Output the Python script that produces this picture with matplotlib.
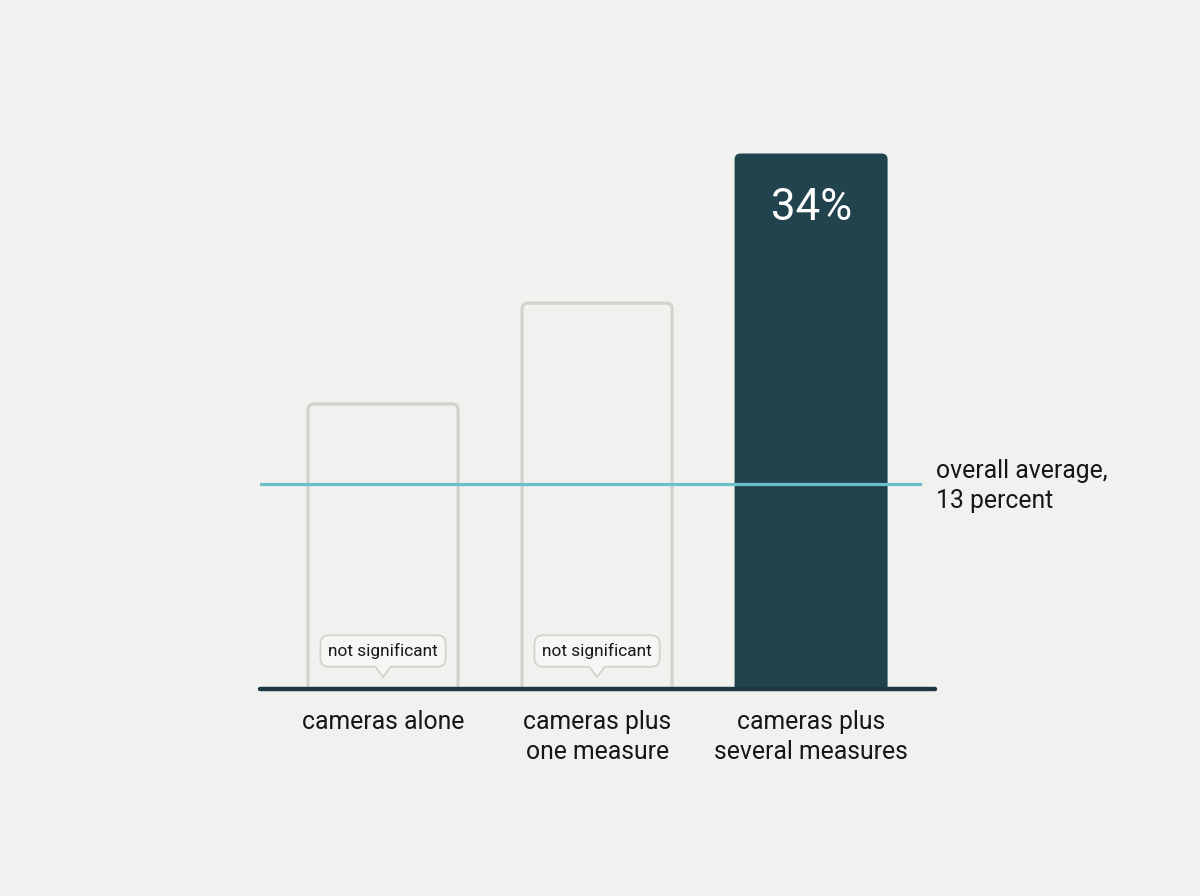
import matplotlib
matplotlib.use("Agg")
import matplotlib.pyplot as plt
import matplotlib.transforms as mtransforms
from matplotlib.patches import FancyBboxPatch, Polygon

# datos del grafico
categorias = ["cameras alone", "cameras plus\none measure", "cameras plus\nseveral measures"]
valores = [18.1, 24.5, 34]
significativo = [False, False, True]
promedio = 13
etiqueta_promedio = "overall average,\n13 percent"
etiqueta_valor = "34%"
etiqueta_ns = "not significant"

# colores
fondo = "#f1f2f0"
oscuro = "#21434d"
base = "#1d3a44"
gris = "#d5d2cb"
turquesa = "#6cc0cc"
texto = "#161616"

plt.rcParams['font.family'] = ['Roboto', 'DejaVu Sans']

fig = plt.figure(figsize=(12, 8.96), dpi=100, facecolor=fondo)
# ejes colocados en pixeles: izquierda 260, derecha 935, base en y=689
ax = fig.add_axes([260 / 1200, 207 / 896, 675 / 1200, 630 / 896])
ax.set_facecolor(fondo)
ax.set_xlim(-0.575, 2.579)
ax.set_ylim(0, 40)
ax.axis("off")

ancho = 0.715
# relacion de escala entre x e y para que las esquinas queden redondas
px_x = 675 / (2.579 + 0.575)
px_y = 630 / 40
aspecto = px_x / px_y

for i, (v, sig) in enumerate(zip(valores, significativo)):
    if sig:
        barra = FancyBboxPatch((i - ancho / 2, -2), ancho, v + 2,
                               boxstyle="round,pad=0,rounding_size=%f" % (6 / px_x),
                               mutation_aspect=aspecto,
                               facecolor=oscuro, edgecolor="none", zorder=2)
    else:
        barra = FancyBboxPatch((i - ancho / 2 + 1.5 / px_x, -2), ancho - 3 / px_x, v + 2,
                               boxstyle="round,pad=0,rounding_size=%f" % (6 / px_x),
                               mutation_aspect=aspecto,
                               facecolor="none", edgecolor=gris, linewidth=2.3, zorder=2)
    ax.add_patch(barra)

    if sig:
        ax.annotate(etiqueta_valor, xy=(i, v), xytext=(0, -55), textcoords="offset pixels",
                    ha="center", va="center", fontsize=31.5, color="white", zorder=5)
    else:
        # globo "not significant"
        ax.annotate(etiqueta_ns, xy=(i, 0), xytext=(0, 38), textcoords="offset pixels",
                    ha="center", va="center", fontsize=12.4, color=texto, zorder=6,
                    bbox=dict(boxstyle="round,pad=0.45,rounding_size=0.5",
                              facecolor="#f6f6f4", edgecolor=gris, linewidth=1.3))
        tr = fig.dpi_scale_trans + mtransforms.ScaledTranslation(i, 0, ax.transData)
        ax.add_patch(Polygon([(-0.085, 0.232), (0.085, 0.232), (0, 0.12)], closed=True,
                             facecolor="#f6f6f4", edgecolor="none", transform=tr,
                             zorder=7, clip_on=False))
        ax.plot([-0.075, 0, 0.075], [0.22, 0.12, 0.22], color=gris, lw=1.3,
                transform=tr, zorder=8, clip_on=False, solid_joinstyle="miter")

    ax.annotate(categorias[i], xy=(i, 0), xytext=(0, -21), textcoords="offset pixels",
                ha="center", va="top", fontsize=17.8, color=texto, linespacing=1.33)

# linea del promedio
fin_promedio = (920 - 260) / 675
ax.axhline(promedio, xmin=0, xmax=fin_promedio, color=turquesa, lw=2.3, zorder=4)
ax.annotate(etiqueta_promedio, xy=(fin_promedio, promedio),
            xycoords=("axes fraction", "data"), xytext=(16, -2), textcoords="offset pixels",
            ha="left", va="center", fontsize=17.8, color=texto, linespacing=1.3)

# linea base
ax.axhline(0, color=base, lw=3.2, solid_capstyle="round", zorder=5, clip_on=False)

plt.savefig("out.png", dpi=100, facecolor=fondo)
